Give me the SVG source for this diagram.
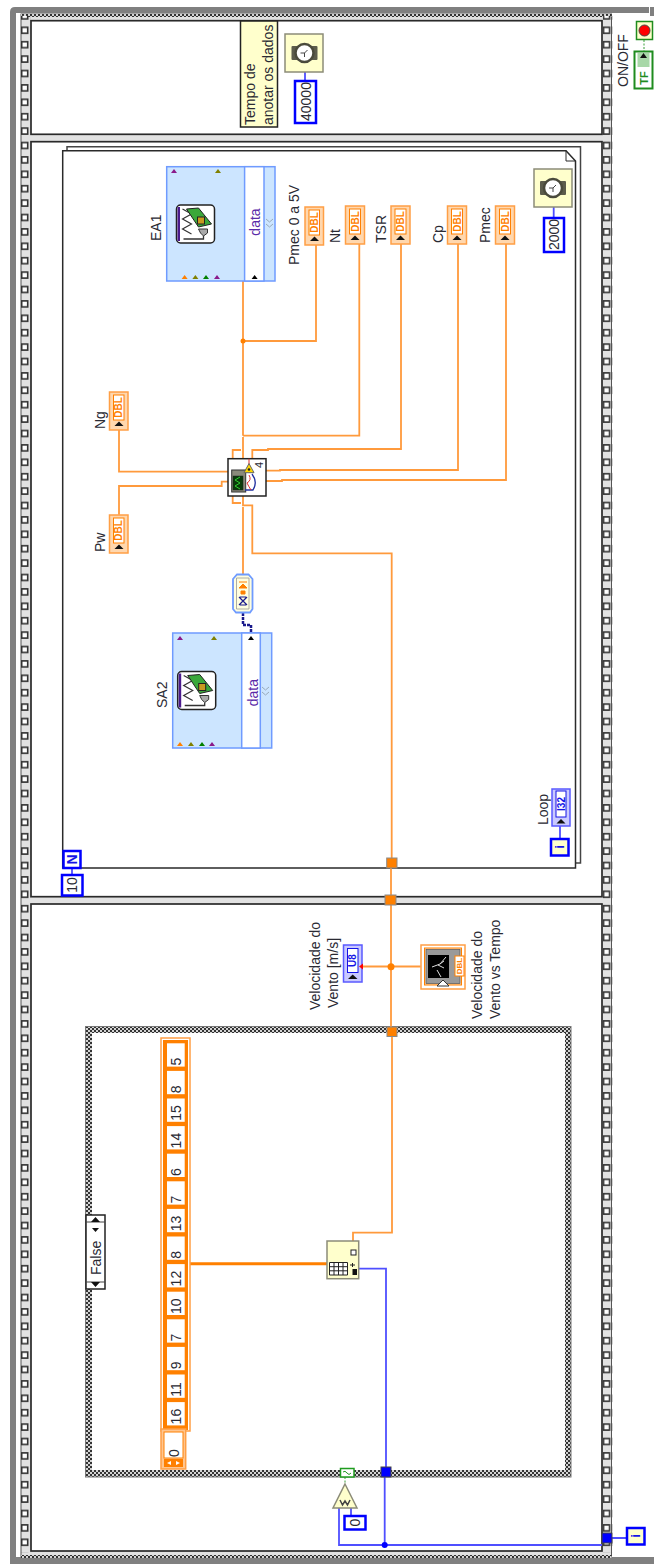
<svg xmlns="http://www.w3.org/2000/svg" width="654" height="1564" viewBox="0 0 654 1564">
<style>
text{font-family:"Liberation Sans",Arial,sans-serif;fill:#2a2a33;font-size:14px;dominant-baseline:central}
.m{text-anchor:middle}
.dbl{font-size:10px;font-weight:bold;fill:#ff8000;text-anchor:middle}
.bl{font-size:10px;font-weight:bold;fill:#1414e6;text-anchor:middle}
.pur{fill:#5a2aa8}
.w{fill:none;stroke:#ff9a3c;stroke-width:1.8}
.b{fill:none;stroke:#4f4fff;stroke-width:1.8}
.ind{fill:#ffd7ae;stroke:#ff9f45;stroke-width:1.5}
.indi{fill:#fff;stroke:#ff8000;stroke-width:1}
.iu{fill:#c9c9ff;stroke:#5a5aff;stroke-width:1.5}
.iui{fill:#fff;stroke:#1414e6;stroke-width:1}
.k{fill:#fff;stroke:#0000ff;stroke-width:2.5}
.fn{fill:#ffffcc;stroke:#8c8c78;stroke-width:1.5}
.fr{fill:#fff;stroke:#2a2a2a;stroke-width:1.700}
.hz{fill:#cce5ff;stroke:#6f9bff;stroke-width:1.5}
.wh{fill:#fff;stroke:#6f9bff;stroke-width:1.5}
.tb{fill:#ff8000;stroke:#8a8a8a;stroke-width:1}
.tu{fill:#0000ff;stroke:#444;stroke-width:1}
.cell{fill:#fff}
</style>
<defs>
<pattern id="film" patternUnits="userSpaceOnUse" x="0" y="15.9" width="10" height="14.4">
<rect x="1.7" y="11.4" width="6" height="6" fill="#fff" stroke="#333" stroke-width="1.6"/>
<rect x="1.7" y="-3" width="6" height="6" fill="#fff" stroke="#333" stroke-width="1.6"/>
</pattern>
<pattern id="dither" patternUnits="userSpaceOnUse" width="4" height="4">
<rect width="4" height="4" fill="#d4d4d4"/>
<rect width="2" height="2" fill="#333"/>
<rect x="2" y="2" width="2" height="2" fill="#333"/>
</pattern>
<g id="watch">
<rect x="-13" y="-7" width="26" height="14" fill="#5c5c4c" rx="1"/>
<circle r="9" fill="#fff" stroke="#4a4a3c" stroke-width="2.500"/>
<path d="M-4 0H0L3 -3M0 0V4" fill="none" stroke="#444" stroke-width="1"/>
</g>
<g id="daq">
<rect x="-19" y="-19" width="38" height="38" rx="4" fill="#fff" stroke="#222" stroke-width="1.5"/>
<rect x="-18" y="-17" width="2.5" height="34" fill="#4a1a8c"/>
<path d="M-13 -15L-4 -10L-13 -5L-4 0L-13 5L-4 10" fill="none" stroke="#333" stroke-width="1.2"/>
<path d="M-9 -15L3 -16L16 0L3 3Z" fill="#3aa83a" stroke="#222" stroke-width="1"/>
<rect x="2" y="-7" width="7" height="7" fill="#c89a20" stroke="#222" stroke-width="1"/>
<path d="M3 5H12V9L8 12L5 9Z" fill="#aaa" stroke="#333" stroke-width="1"/>
<path d="M8 12V15H-12" fill="none" stroke="#333" stroke-width="1.300"/>
</g>
</defs>

<g id="background">
<path d="M10 1564V12Q10 7 15 7H649V13H16V1557H654V1564Z" fill="#808080"/>
<rect x="650" y="7" width="4" height="9" fill="#808080"/>
</g>

<g id="sequence-frame">
<rect x="21" y="14" width="590.500" height="1543" fill="#e2e2e2" stroke="#555" stroke-width="1"/>
<rect x="21" y="14" width="590.500" height="3" fill="url(#dither)"/>
<rect x="21" y="1555" width="590.500" height="3" fill="url(#dither)"/>
<rect x="21" y="15.900" width="10" height="1537" fill="url(#film)"/>
<g transform="translate(581.800 0)"><rect x="21" y="15.900" width="10" height="1537" fill="url(#film)"/></g>
<rect class="fr" x="31" y="20.700" width="571" height="113.600"/>
<rect class="fr" x="31" y="141.700" width="571" height="755"/>
<rect class="fr" x="31" y="904" width="571" height="647"/>
</g>

<g id="for-loop">
<path d="M67 150V146.700H580.500V863H576" fill="none" stroke="#444" stroke-width="1.500"/>
<path d="M62.700 868V150.700H566L575.500 161V868Z" fill="#fff" stroke="#2a2a2a" stroke-width="1.500"/>
<path d="M566 150.700V161H575.500" fill="none" stroke="#2a2a2a" stroke-width="1"/>
</g>

<g id="case-structure">
<rect x="85.500" y="1026.500" width="485.500" height="450.500" fill="url(#dither)" stroke="#777" stroke-width="1"/>
<rect x="92" y="1033" width="473" height="437" fill="#fff"/>
</g>

<g id="connectors">
<path class="w" d="M243 281V435.700M243 437V458M243 341H316V245M359.300 244V435.700H243"/>
<path class="w" d="M241 450H232.700V458M232.700 496V503H241M252.300 458V450H268V449H401V244M266 470.700H280V470H458V244M266 481H282V480H506V244"/>
<path class="w" d="M119 430V471.700H228M119 514.700V486H221.700V481.700H228"/>
<path class="w" d="M243 507V575M243 496V505.300H252.300V553.300H391.700V858M391 868V895M391 905V1027M362 966.500H420.700M392 1036V1232.700H353V1241"/>
<path d="M243 613V625H251V633" fill="none" stroke="#1a1a8c" stroke-width="2.500" stroke-dasharray="3 1"/>
<path d="M190 1263.700H327" fill="none" stroke="#ff8000" stroke-width="3"/>
<path class="b" d="M358.700 1268.700H386V1467M384.700 1477V1545M612 1538H626M602 1545H339V1508M351 1508V1515M305 72V80M553.700 207V217M72 868V874M560 826V838"/>
<path d="M345 1477V1484M644 40V52" fill="none" stroke="#3aa03a" stroke-width="1" stroke-dasharray="2 1.500"/>
<circle cx="243" cy="341" r="2.500" fill="#ff8000"/>
<circle cx="391" cy="966.700" r="3.500" fill="#ff8000"/>
<circle cx="384.700" cy="1545" r="3" fill="#0000ff"/>
<rect class="tb" x="386.700" y="858" width="10.300" height="10"/>
<rect class="tb" x="385" y="895" width="11" height="10"/>
<rect class="tb" x="387" y="1027" width="10" height="9.500"/>
<rect class="tu" x="381" y="1467" width="10" height="10"/>
<rect class="tu" x="602" y="1533" width="10" height="10"/>
</g>

<g id="wait-40000">
<rect class="fn" x="285" y="34" width="38" height="38"/>
<use href="#watch" transform="translate(304.500 53)"/>
</g>
<g id="const-40000">
<rect class="k" x="295" y="81" width="21" height="42"/>
<text transform="translate(305.500 121) rotate(-90)">40000</text>
</g>
<g id="note">
<rect x="240.500" y="21" width="37" height="106" fill="#ffffcc" stroke="#222" stroke-width="1.500"/>
<text transform="translate(250 125) rotate(-90)">Tempo de</text>
<text transform="translate(268 125) rotate(-90)">anotar os dados</text>
</g>

<g id="on-off">
<text transform="translate(623 87) rotate(-90)">ON/OFF</text>
<rect x="636.500" y="21.500" width="16" height="18" fill="#ffffcc" stroke="#1f8c1f" stroke-width="1.500"/>
<circle cx="644.500" cy="30.500" r="5.500" fill="#ff0000" stroke="#444" stroke-width="1"/>
<rect x="634.500" y="51.500" width="18" height="37" fill="#fff" stroke="#1f8c1f" stroke-width="2"/>
<rect x="637.500" y="53" width="12" height="14" fill="#a8d8a8"/>
<path d="M640 58H647L643.500 53Z" fill="#111"/>
<text class="bl" style="fill:#1f8c1f;font-size:11px" transform="translate(643.500 78) rotate(-90)" text-anchor="middle">TF</text>
</g>

<g id="EA1">
<text transform="translate(156 241) rotate(-90)">EA1</text>
<rect class="hz" x="166.700" y="166.700" width="108.300" height="114.300"/>
<rect class="wh" x="244.600" y="166.700" width="19.400" height="114.300"/>
<use href="#daq" transform="translate(195.500 224)"/>
<text class="m pur" transform="translate(254.500 222) rotate(-90)">data</text>
<path d="M266 219L269.500 222L273 219M266 224L269.500 227L273 224" fill="none" stroke="#9ab" stroke-width="1"/>
<path d="M171 173H177L174 169Z" fill="#8a1a8a"/><path d="M215 173H221L218 169Z" fill="#808000"/>
<path d="M181.600 279H187.600L184.600 275Z" fill="#ff8000"/><path d="M192.400 279H198.400L195.400 275Z" fill="#808000"/><path d="M203 279H209L206 275Z" fill="#008000"/><path d="M214 279H220L217 275Z" fill="#8a1a8a"/><path d="M251.600 279H257.600L254.600 275Z" fill="#000"/>
</g>

<g id="SA2">
<text transform="translate(162 708) rotate(-90)">SA2</text>
<rect class="hz" x="172.700" y="633" width="99" height="115"/>
<rect class="wh" x="241.700" y="633" width="18.600" height="115"/>
<use href="#daq" transform="translate(196.700 690.500)"/>
<text class="m pur" transform="translate(252.500 692.700) rotate(-90)">data</text>
<path d="M262 687L265.500 690L269 687M262 692L265.500 695L269 692" fill="none" stroke="#9ab" stroke-width="1"/>
<path d="M177 640H183L180 636Z" fill="#8a1a8a"/><path d="M211 640H217L214 636Z" fill="#808000"/><path d="M248 640H254L251 636Z" fill="#000"/>
<path d="M177 746H183L180 742Z" fill="#ff8000"/><path d="M188 746H194L191 742Z" fill="#808000"/><path d="M199 746H205L202 742Z" fill="#008000"/><path d="M209 746H215L212 742Z" fill="#8a1a8a"/>
</g>

<g id="Pmec05"><text transform="translate(294 265) rotate(-90)">Pmec 0 a 5V</text>
<rect class="ind" x="305" y="207" width="18.500" height="38"/><rect class="indi" x="309" y="210" width="10.500" height="25"/><text class="dbl" transform="translate(314.200 222.500) rotate(-90)">DBL</text><path d="M310 241H319L314.500 236.500Z" fill="#111"/></g>
<g id="Nt"><text transform="translate(335 243) rotate(-90)">Nt</text>
<rect class="ind" x="345.500" y="206" width="19" height="38"/><rect class="indi" x="349.500" y="209" width="11" height="25"/><text class="dbl" transform="translate(355 221.500) rotate(-90)">DBL</text><path d="M350.500 240H359.500L355 235.500Z" fill="#111"/></g>
<g id="TSR"><text transform="translate(381 243) rotate(-90)">TSR</text>
<rect class="ind" x="391" y="206" width="19" height="38"/><rect class="indi" x="395" y="209" width="11" height="25"/><text class="dbl" transform="translate(400.500 221.500) rotate(-90)">DBL</text><path d="M396 240H405L400.500 235.500Z" fill="#111"/></g>
<g id="Cp"><text transform="translate(437.500 243) rotate(-90)">Cp</text>
<rect class="ind" x="447.500" y="206" width="19" height="38"/><rect class="indi" x="451.500" y="209" width="11" height="25"/><text class="dbl" transform="translate(457 221.500) rotate(-90)">DBL</text><path d="M452.500 240H461.500L457 235.500Z" fill="#111"/></g>
<g id="Pmec"><text transform="translate(485 243) rotate(-90)">Pmec</text>
<rect class="ind" x="495.500" y="206" width="19" height="38"/><rect class="indi" x="499.500" y="209" width="11" height="25"/><text class="dbl" transform="translate(505 221.500) rotate(-90)">DBL</text><path d="M500.500 240H509.500L505 235.500Z" fill="#111"/></g>

<g id="wait-2000">
<rect class="fn" x="534" y="169" width="38" height="38"/>
<use href="#watch" transform="translate(553 188)"/>
</g>
<g id="const-2000">
<rect class="k" x="544" y="218" width="20" height="34"/>
<text transform="translate(554 250) rotate(-90)">2000</text>
</g>

<g id="Ng"><text transform="translate(100 429) rotate(-90)">Ng</text>
<rect class="ind" x="109.500" y="392" width="18.500" height="38"/><rect class="indi" x="113.500" y="395" width="10.500" height="25"/><text class="dbl" transform="translate(118.700 407.500) rotate(-90)">DBL</text><path d="M114.500 426H123.500L119 421.500Z" fill="#111"/></g>
<g id="Pw"><text transform="translate(100 552) rotate(-90)">Pw</text>
<rect class="ind" x="109.500" y="515" width="18.500" height="38"/><rect class="indi" x="113.500" y="518" width="10.500" height="25"/><text class="dbl" transform="translate(118.700 530.500) rotate(-90)">DBL</text><path d="M114.500 549H123.500L119 544.500Z" fill="#111"/></g>

<g id="subvi">
<rect x="228" y="458.700" width="38" height="37.300" fill="#fff" stroke="#222" stroke-width="1.500"/>
<rect x="231.700" y="470" width="14" height="22" fill="#8a8a7a" stroke="#333" stroke-width="1"/>
<rect x="233" y="476" width="10" height="14" fill="#0a3a0a" stroke="#222" stroke-width=".5"/>
<path d="M240 477L235 480L240 483L235 486L240 489" fill="none" stroke="#2fd02f" stroke-width="1"/>
<path d="M252 474Q258 482 253 490H245" fill="none" stroke="#2030a0" stroke-width="1.300"/>
<path d="M249 475Q252 480 247 483Q249 487 251 490" fill="none" stroke="#e03030" stroke-width="1"/>
<path d="M249 458.700V464" stroke="#e03030" stroke-width="1"/>
<path d="M249 463.500L254 472.700H244Z" fill="#ffd800" stroke="#666" stroke-width="1"/>
<circle cx="249" cy="469.500" r="1.300" fill="#222"/>
<text class="m" style="font-size:11px" transform="translate(259 465) rotate(-90)">4</text>
</g>

<g id="convert">
<path d="M233 579L237 574.500H248.500L252.500 579V609L250 612.500H236L233 609Z" fill="#ffffe0" stroke="#6f9bff" stroke-width="1.800"/>
<path d="M236.500 578H249V609H236.500Z" fill="none" stroke="#999" stroke-width=".8"/>
<path d="M239 582H247M243 584L239 588H247ZM241 591H245V594H241Z" fill="#ff8000" stroke="#ff8000" stroke-width="1"/>
<path d="M239 597L247 605M247 597L239 605M240 597H246M240 605H246" fill="none" stroke="#1a1a8c" stroke-width="1.200"/>
</g>

<g id="loop-count">
<rect class="k" x="63.500" y="851" width="17" height="17"/>
<text class="m" style="fill:#1414e6;font-weight:bold;font-size:14px" transform="translate(72 859.500)  rotate(-90)">N</text>
</g>
<g id="const-10">
<rect class="k" x="62" y="875" width="20.500" height="20.500"/>
<text class="m" transform="translate(72.200 885) rotate(-90)">10</text>
</g>
<g id="loop-i">
<rect class="k" x="551" y="839" width="17.500" height="16.500" style="fill:#ffffcc"/>
<text class="m" style="fill:#1414e6;font-weight:bold;font-size:13px" transform="translate(559.700 847) rotate(-90)">i</text>
</g>
<g id="Loop">
<text transform="translate(543 825) rotate(-90)">Loop</text>
<rect class="iu" x="552" y="789" width="18" height="37"/><rect class="iui" x="556" y="791" width="10" height="26"/>
<text class="bl" transform="translate(561 804) rotate(-90)">I32</text><path d="M556.500 823.500H565.500L561 819Z" fill="#111"/>
</g>

<g id="vento-ind">
<text transform="translate(315 1010) rotate(-90)">Velocidade do</text>
<text transform="translate(333 1008) rotate(-90)">Vento [m/s]</text>
<rect class="iu" x="343.500" y="945" width="18.500" height="37"/><rect class="iui" x="347.500" y="948.500" width="10.500" height="24"/>
<text class="bl" transform="translate(352.700 960.500) rotate(-90)">U8</text><path d="M348 979H357.500L352.700 974.500Z" fill="#111"/>
<path d="M359 966.500L363 963.500V969.500Z" fill="#ff0000"/>
</g>

<g id="vento-graph">
<rect x="421" y="945" width="44" height="44" fill="#fff" stroke="#ff9f45" stroke-width="1.500"/>
<rect x="424.500" y="948" width="37" height="37" fill="#ffd7ae" stroke="#ff8000" stroke-width="1"/>
<rect x="426" y="949.500" width="34" height="34" fill="#9a9a9a" stroke="#555" stroke-width=".7"/>
<rect x="428" y="955" width="21" height="23" fill="#000"/>
<path d="M432 967L440 964L446 957M438 965L444 968M437 970L441 977M440 964L444 961" fill="none" stroke="#ddd" stroke-width="1"/>
<path d="M437 986L443 980L449 986Z" fill="#fff" stroke="#333" stroke-width="1"/>
<rect x="455" y="956" width="9" height="20" fill="#fff" stroke="#ff8000" stroke-width="1"/>
<text class="dbl" style="font-size:8px" transform="translate(459.500 966) rotate(-90)">DBL</text>
<text transform="translate(477 1019) rotate(-90)">Velocidade do</text>
<text transform="translate(495 1019) rotate(-90)">Vento vs Tempo</text>
</g>

<g id="case-selector">
<rect x="86" y="1215" width="19" height="74" fill="#fff" stroke="#222" stroke-width="1.500"/>
<path d="M86 1222H105M86 1282H105" stroke="#444" stroke-width="1"/>
<path d="M91 1222L95.500 1217L100 1222ZM91 1282L95.500 1287L100 1282Z" fill="#111"/>
<path d="M92 1228H99L95.500 1232Z" fill="#111"/>
<text transform="translate(95.500 1275) rotate(-90)">False</text>
</g>

<g id="array-constant">
<rect x="161" y="1038" width="29" height="393" fill="#fff" stroke="#ff9f45" stroke-width="1.500"/>
<rect x="163" y="1040" width="25" height="390" fill="#ff8000"/>
<rect class="cell" x="167" y="1043.300" width="17.700" height="23.300"/><text transform="translate(175.700 1065.600) rotate(-90)">5</text>
<rect class="cell" x="167" y="1070.900" width="17.700" height="23.300"/><text transform="translate(175.700 1093.200) rotate(-90)">8</text>
<rect class="cell" x="167" y="1098.500" width="17.700" height="23.300"/><text transform="translate(175.700 1120.800) rotate(-90)">15</text>
<rect class="cell" x="167" y="1126.100" width="17.700" height="23.300"/><text transform="translate(175.700 1148.400) rotate(-90)">14</text>
<rect class="cell" x="167" y="1153.700" width="17.700" height="23.300"/><text transform="translate(175.700 1176) rotate(-90)">6</text>
<rect class="cell" x="167" y="1181.300" width="17.700" height="23.300"/><text transform="translate(175.700 1203.600) rotate(-90)">7</text>
<rect class="cell" x="167" y="1208.900" width="17.700" height="23.300"/><text transform="translate(175.700 1231.200) rotate(-90)">13</text>
<rect class="cell" x="167" y="1236.500" width="17.700" height="23.300"/><text transform="translate(175.700 1258.800) rotate(-90)">8</text>
<rect class="cell" x="167" y="1264.100" width="17.700" height="23.300"/><text transform="translate(175.700 1286.400) rotate(-90)">12</text>
<rect class="cell" x="167" y="1291.700" width="17.700" height="23.300"/><text transform="translate(175.700 1314) rotate(-90)">10</text>
<rect class="cell" x="167" y="1319.300" width="17.700" height="23.300"/><text transform="translate(175.700 1341.600) rotate(-90)">7</text>
<rect class="cell" x="167" y="1346.900" width="17.700" height="23.300"/><text transform="translate(175.700 1369.200) rotate(-90)">9</text>
<rect class="cell" x="167" y="1374.500" width="17.700" height="23.300"/><text transform="translate(175.700 1396.800) rotate(-90)">11</text>
<rect class="cell" x="167" y="1402.100" width="17.700" height="23.300"/><text transform="translate(175.700 1424.400) rotate(-90)">16</text>
<rect x="161" y="1429" width="24.700" height="40" fill="#ffc690" stroke="#ff9f45" stroke-width="1.500"/>
<rect x="164" y="1432" width="19" height="26" fill="#fff" stroke="#ff8000" stroke-width="1"/>
<text transform="translate(173.500 1457) rotate(-90)">0</text>
<rect x="164" y="1459" width="19" height="8" fill="#ff8000"/>
<path d="M167 1463L171 1461V1465ZM180 1463L176 1461V1465Z" fill="#fff"/>
</g>

<g id="index-array">
<rect class="fn" x="327" y="1241" width="31.700" height="37.700"/>
<rect x="351" y="1250" width="5" height="5" fill="#fff" stroke="#222" stroke-width="1"/>
<path d="M329.500 1262.500H347.500V1275H329.500ZM329.500 1266.700H347.500M329.500 1270.800H347.500M334 1262.500V1275M338.500 1262.500V1275M343 1262.500V1275" fill="#fff" stroke="#222" stroke-width="1"/>
<rect x="352.500" y="1269" width="4.500" height="6" fill="#111"/>
<path d="M350 1265H355M352.500 1263V1267" fill="none" stroke="#222" stroke-width="1"/>
</g>

<g id="selector-terminal">
<rect x="340.500" y="1468.500" width="13.500" height="8.500" fill="#fff" stroke="#1f9c1f" stroke-width="1.500"/>
<path d="M343 1472Q345 1470 347 1473T351 1473" fill="none" stroke="#1f9c1f" stroke-width="1"/>
</g>
<g id="equal-zero">
<path class="fn" d="M345 1484L357 1508H333Z"/>
<path d="M340 1500L342.500 1505L345 1501L347.500 1505L350 1500" fill="none" stroke="#444" stroke-width="1.500"/>
</g>
<g id="const-0">
<rect class="k" x="344.500" y="1516" width="21" height="13.500"/>
<text class="m" transform="translate(355 1522.700) rotate(-90)">0</text>
</g>
<g id="outer-i">
<rect class="k" x="627" y="1528" width="17.500" height="16.500" style="fill:#ffffcc"/>
<text class="m" style="fill:#1414e6;font-weight:bold;font-size:13px" transform="translate(635.700 1536) rotate(-90)">i</text>
</g>
</svg>
